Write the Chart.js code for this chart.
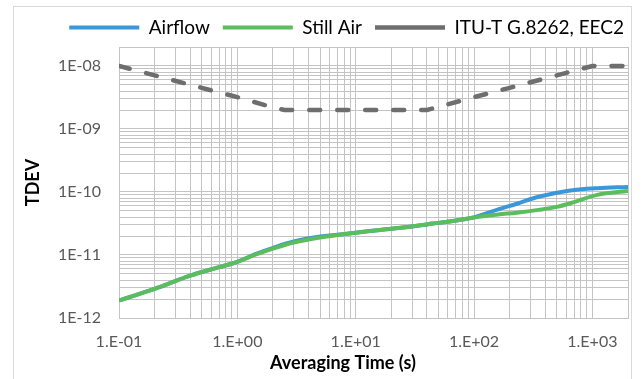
<!DOCTYPE html>
<html><head><meta charset="utf-8">
<script src="https://cdn.jsdelivr.net/npm/chart.js@4.4.0/dist/chart.umd.min.js"></script>
<style>
html,body{margin:0;padding:0;background:#fff;}
#wrap{position:relative;width:642px;height:379px;overflow:hidden;background:#fff;}
#frame{position:absolute;left:13px;top:6px;width:619px;height:420px;border:1px solid #d9d9d9;box-sizing:border-box;}
#c{position:absolute;left:0;top:0;}
</style></head><body>
<div id="wrap"><div id="frame"></div><canvas id="c" width="642" height="379"></canvas></div>
<script>
// ---- data ----
const airflowTau = [0.1, 0.2, 0.4, 0.7, 1, 1.4, 2, 3, 5, 7, 10, 16, 24, 45, 75, 100, 160, 230, 350, 610, 1100, 2000];
const airflowTdev = [1.9e-12, 2.9e-12, 4.7e-12, 6.4e-12, 7.8e-12, 1.02e-11, 1.3e-11, 1.64e-11, 1.96e-11, 2.1e-11, 2.25e-11, 2.5e-11, 2.7e-11, 3.15e-11, 3.6e-11, 3.95e-11, 5.3e-11, 6.5e-11, 8.4e-11, 1.04e-10, 1.15e-10, 1.2e-10];
const stillTau = [0.1, 0.2, 0.4, 0.7, 1, 1.4, 2, 3, 5, 7, 10, 16, 24, 45, 75, 100, 160, 230, 350, 500, 700, 1100, 2000];
const stillTdev = [1.9e-12, 2.9e-12, 4.7e-12, 6.4e-12, 7.8e-12, 1.0e-11, 1.26e-11, 1.58e-11, 1.9e-11, 2.08e-11, 2.25e-11, 2.5e-11, 2.7e-11, 3.15e-11, 3.6e-11, 3.95e-11, 4.4e-11, 4.7e-11, 5.2e-11, 5.8e-11, 6.9e-11, 9.0e-11, 1.04e-10];
const maskTau = [0.1, 0.2, 0.5, 1, 2, 2.5, 40, 100, 200, 500, 1000, 2000];
const maskTdev = [1e-8, 7.1e-9, 4.5e-9, 3.2e-9, 2.2e-9, 2e-9, 2e-9, 3.2e-9, 4.5e-9, 7.1e-9, 1e-8, 1e-8];
const seriesNames = ['Airflow', 'Still Air', 'ITU-T G.8262, EEC2'];
const xTickValues = [0.1, 1, 10, 100, 1000];
const xTickLabels = ['1.E-01', '1.E+00', '1.E+01', '1.E+02', '1.E+03'];
const yTickValues = [1e-12, 1e-11, 1e-10, 1e-9, 1e-8];
const yTickLabels = ['1E-12', '1E-11', '1E-10', '1E-09', '1E-08'];
const xMin = 0.1, xMax = 2000, yMin = 1e-12, yMax = 2e-8;
const xTitle = 'Averaging Time (s)';
const yTitle = 'TDEV';

// ---- helpers ----
const FONT = 'Lato';
function pts(t, v) { return t.map((x, i) => ({ x: x, y: v[i] })); }
function gridValues(min, max) {
  const out = [];
  const e0 = Math.floor(Math.log10(min)), e1 = Math.ceil(Math.log10(max));
  for (let e = e0; e <= e1; e++) {
    for (let m = 1; m <= 9; m++) {
      const v = parseFloat((m * Math.pow(10, e)).toPrecision(6));
      if (v >= min * 0.999999 && v <= max * 1.000001) out.push(v);
    }
  }
  if (out[out.length - 1] < max * 0.999999) out.push(max);
  return out;
}
function labelFor(values, labels, v) {
  for (let i = 0; i < values.length; i++) {
    if (Math.abs(values[i] - v) / values[i] < 1e-6) return labels[i];
  }
  return '';
}

const xTitlePlugin = {
  id: 'xTitlePlugin',
  afterDraw(chart) {
    const ctx = chart.ctx;
    ctx.save();
    ctx.font = 'bold 18px ' + FONT;
    ctx.fillStyle = '#000';
    ctx.textAlign = 'center';
    ctx.textBaseline = 'middle';
    ctx.fillText(xTitle, 343, 363);
    ctx.restore();
  }
};
const legendShift = {
  id: 'legendShift',
  afterLayout(chart) {
    if (chart.legend) { chart.legend.right = 637; }
  }
};

const gridColor = '#c4c4c4';
new Chart(document.getElementById('c'), {
  type: 'line',
  data: {
    datasets: [
      { label: seriesNames[0], data: pts(airflowTau, airflowTdev), borderColor: '#3b98d8', backgroundColor: '#3b98d8', borderWidth: 4, pointRadius: 0, tension: 0.35, order: 2 },
      { label: seriesNames[1], data: pts(stillTau, stillTdev), borderColor: '#5bbd5b', backgroundColor: '#5bbd5b', borderWidth: 4, pointRadius: 0, tension: 0.35, order: 1 },
      { label: seriesNames[2], data: pts(maskTau, maskTdev), borderColor: '#6e6e6e', backgroundColor: '#6e6e6e', borderWidth: 4.5, borderDash: [11, 17], borderCapStyle: 'round', pointRadius: 0, tension: 0, order: 3 }
    ]
  },
  options: {
    responsive: false,
    animation: false,
    devicePixelRatio: 1,
    layout: { padding: { left: 0, right: 13, top: 5, bottom: 0 } },
    plugins: {
      tooltip: { enabled: false },
      legend: {
        position: 'top', align: 'end',
        labels: {
          usePointStyle: true, pointStyle: 'line', pointStyleWidth: 70,
          font: { family: FONT, size: 19 }, color: '#000', padding: 13,
          sort: (a, b) => a.datasetIndex - b.datasetIndex
        }
      }
    },
    scales: {
      x: {
        type: 'logarithmic', min: xMin, max: xMax,
        afterBuildTicks: s => { s.ticks = gridValues(xMin, xMax).map(v => ({ value: v })); },
        afterFit: s => { s.height = 61; },
        ticks: { autoSkip: false, maxRotation: 0, padding: 14, color: '#595959', font: { family: FONT, size: 16 },
          callback: v => labelFor(xTickValues, xTickLabels, v) },
        grid: { color: gridColor, drawTicks: false, lineWidth: 1 },
        border: { color: gridColor }
      },
      y: {
        type: 'logarithmic', min: yMin, max: yMax,
        afterBuildTicks: s => { s.ticks = gridValues(yMin, yMax).map(v => ({ value: v })); },
        afterFit: s => { s.width = 119; },
        ticks: { autoSkip: false, padding: 18, color: '#595959', font: { family: FONT, size: 16 },
          callback: v => labelFor(yTickValues, yTickLabels, v) },
        grid: { color: gridColor, drawTicks: false, lineWidth: 1 },
        border: { color: gridColor },
        title: { display: true, text: yTitle, color: '#000', font: { family: FONT, size: 18, weight: 'bold' }, padding: { top: 22, bottom: 0 } }
      }
    }
  },
  plugins: [xTitlePlugin, legendShift]
});
</script>
</body></html>
